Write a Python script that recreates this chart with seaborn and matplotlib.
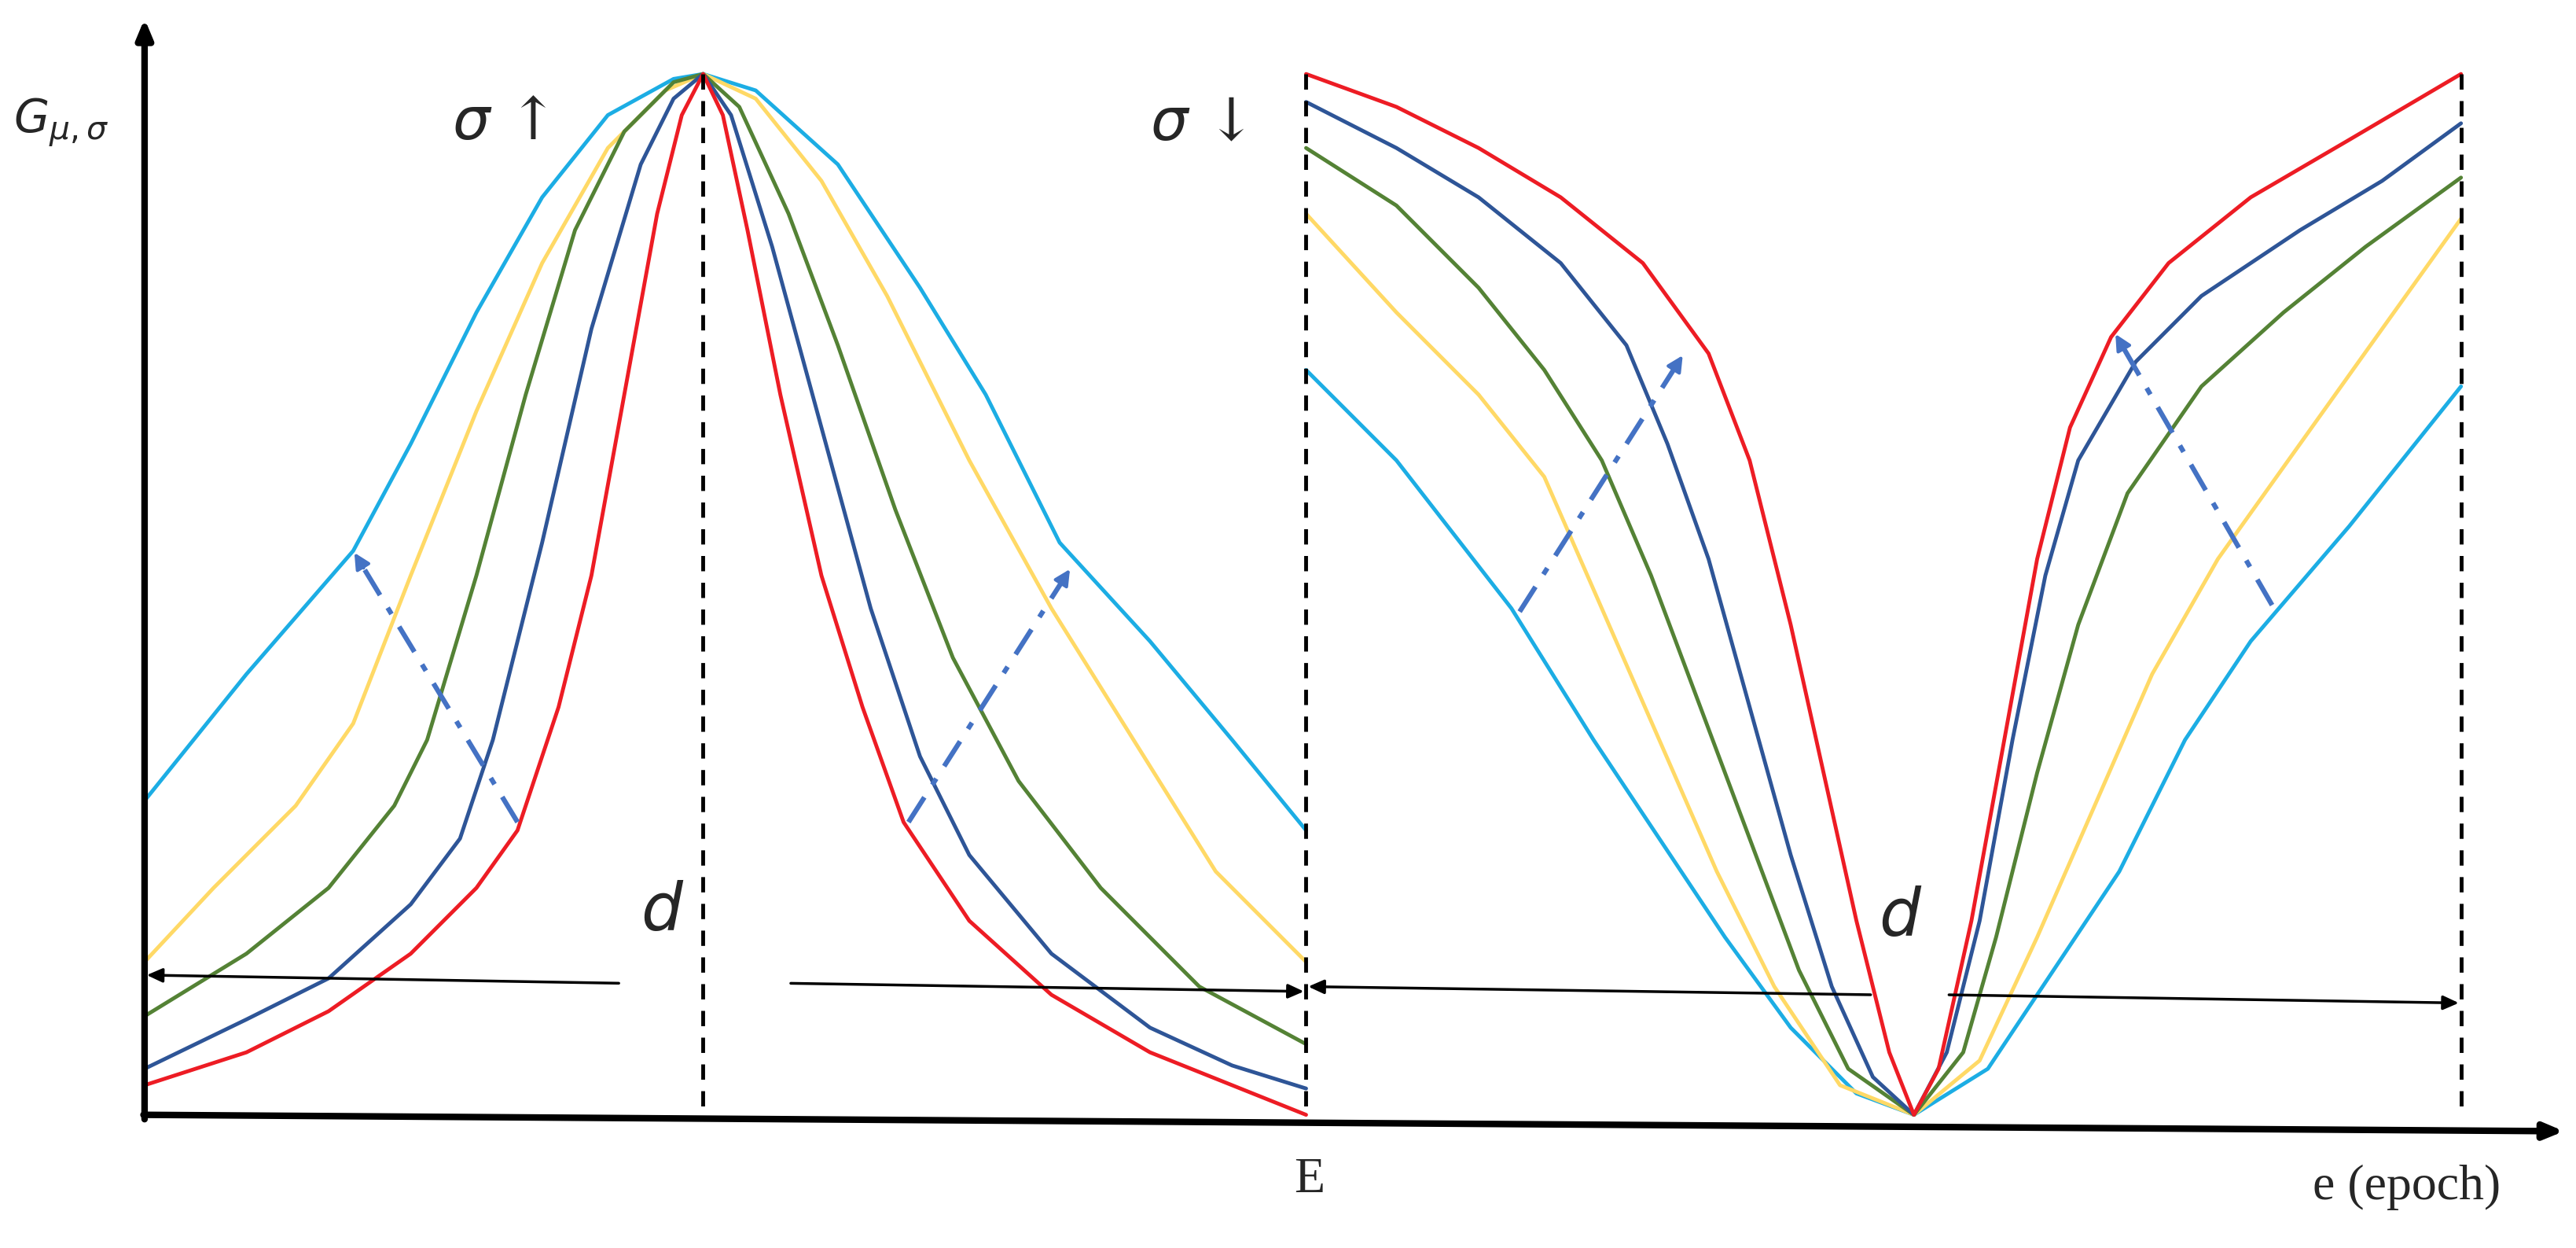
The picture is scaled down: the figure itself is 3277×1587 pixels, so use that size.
import matplotlib
matplotlib.use("Agg")
import matplotlib.pyplot as plt
import seaborn as sns
import pandas as pd

sns.set_theme(style="white")
plt.rcParams['font.family'] = ['DejaVu Serif', 'DejaVu Sans']

# coordinates in reference-image units (x right, y down)
left_x = {
 "red":    [88,150,200,250,290,315,340,360,380,400,415,428,440,455,475,500,525,550,590,640,700,750,795],
 "blue":   [88,150,200,250,280,300,330,360,390,410,428,445,470,500,530,560,590,640,700,750,795],
 "green":  [88,150,200,240,260,290,320,350,380,410,428,450,480,510,545,580,620,670,730,795],
 "yellow": [88,130,180,215,250,290,330,370,405,428,460,500,540,590,640,690,740,795],
 "cyan":   [88,150,215,250,290,330,370,410,428,460,510,560,600,645,700,750,795],
}
left_y = {
 "red":    [660,640,615,580,540,505,430,350,240,130,70,45,70,140,240,350,430,500,560,605,640,660,678],
 "blue":   [650,620,595,550,510,450,330,200,100,60,45,70,150,260,370,460,520,580,625,648,662],
 "green":  [618,580,540,490,450,350,240,140,80,50,45,65,130,210,310,400,475,540,600,635],
 "yellow": [585,540,490,440,350,250,160,90,55,45,60,110,180,280,370,450,530,585],
 "cyan":   [487,410,335,270,190,120,70,48,45,55,100,175,240,330,390,450,505],
}
right_x = {
 "red":    [795,850,900,950,1000,1040,1065,1090,1110,1130,1150,1165,1180,1200,1220,1240,1260,1285,1320,1370,1430,1498],
 "blue":   [795,850,900,950,990,1015,1040,1065,1090,1115,1140,1165,1185,1205,1225,1245,1265,1300,1340,1400,1450,1498],
 "green":  [795,850,900,940,975,1005,1035,1065,1095,1125,1165,1195,1215,1240,1265,1295,1340,1390,1440,1498],
 "yellow": [795,850,900,940,975,1010,1045,1080,1120,1165,1205,1240,1275,1310,1350,1400,1450,1498],
 "cyan":   [795,850,920,970,1010,1050,1090,1130,1165,1210,1250,1290,1330,1370,1430,1498],
}
right_y = {
 "red":    [45,65,90,120,160,215,280,380,470,560,640,678,650,560,450,340,260,205,160,120,85,45],
 "blue":   [62,90,120,160,210,270,340,430,520,600,655,678,640,560,450,350,280,220,180,140,110,75],
 "green":  [90,125,175,225,280,350,430,510,590,650,678,640,570,470,380,300,235,190,150,108],
 "yellow": [130,190,240,290,370,450,530,600,660,678,645,570,490,410,340,270,200,133],
 "cyan":   [225,280,370,450,510,570,625,665,678,650,590,530,450,390,320,235],
}
colors = {"red": "#ED1C24", "blue": "#2E5597", "green": "#548235",
          "yellow": "#FFD966", "cyan": "#1CADE4"}

fig = plt.figure(figsize=(32.77, 15.87), dpi=100)
ax = fig.add_axes([0, 0, 1, 1])

for name in ["cyan", "yellow", "green", "blue", "red"]:
    for xs, ys in ((left_x, left_y), (right_x, right_y)):
        df = pd.DataFrame({"x": xs[name], "y": ys[name]})
        sns.lineplot(data=df, x="x", y="y", ax=ax, color=colors[name], lw=3.5,
                     sort=False, estimator=None)
ax.set_xlim(0, 1568); ax.set_ylim(759, 0); ax.axis("off")

# dashed verticals
for xv in [428, 795, 1498]:
    ax.plot([xv, xv], [45, 678], ls=(0, (4, 3)), color="black", lw=3.5)

# axes arrows
ax.annotate("", xy=(88, 10), xytext=(88, 682),
            arrowprops=dict(arrowstyle="-|>,head_length=1.2,head_width=0.5", color="black", lw=6))
ax.annotate("", xy=(1562, 688), xytext=(86, 678),
            arrowprops=dict(arrowstyle="-|>,head_length=1.2,head_width=0.5", color="black", lw=6))

# blue dash-dot arrows
for (x0, y0, x1, y1) in [(315, 500, 215, 335), (553, 500, 652, 345),
                         (925, 372, 1025, 215), (1383, 368, 1287, 202)]:
    ax.plot([x0, x1 + (x0 - x1) * 0.06], [y0, y1 + (y0 - y1) * 0.06],
            color="#4472C4", lw=4.5, ls=(0, (6, 3, 1.5, 3)))
    ax.annotate("", xy=(x1, y1), xytext=(x1 + (x0 - x1) * 0.07, y1 + (y0 - y1) * 0.07),
                arrowprops=dict(arrowstyle="-|>,head_length=1.0,head_width=0.5",
                                color="#4472C4", lw=3))

# black distance arrows
for (x0, y0, x1, y1) in [(378, 598, 88, 593), (480, 598, 795, 603),
                         (1140, 605, 795, 600), (1185, 605, 1498, 610)]:
    ax.annotate("", xy=(x1, y1), xytext=(x0, y0),
                arrowprops=dict(arrowstyle="-|>,head_length=1.0,head_width=0.45",
                                color="black", lw=2.5))

ax.text(8, 75, r"$G_{\mu,\sigma}$", fontsize=42, va="center")
ax.text(275, 75, r"$\sigma$ ↑", fontsize=54, va="center")
ax.text(700, 75, r"$\sigma$ ↓", fontsize=54, va="center")
ax.text(403, 555, r"$d$", fontsize=60, ha="center", va="center")
ax.text(1157, 558, r"$d$", fontsize=60, ha="center", va="center")
ax.text(797, 718, "E", fontsize=46, ha="center", va="center", family="Liberation Serif")
ax.text(1465, 722, "e (epoch)", fontsize=46, ha="center", va="center", family="Liberation Serif")

fig.savefig("out.png", dpi=100)
